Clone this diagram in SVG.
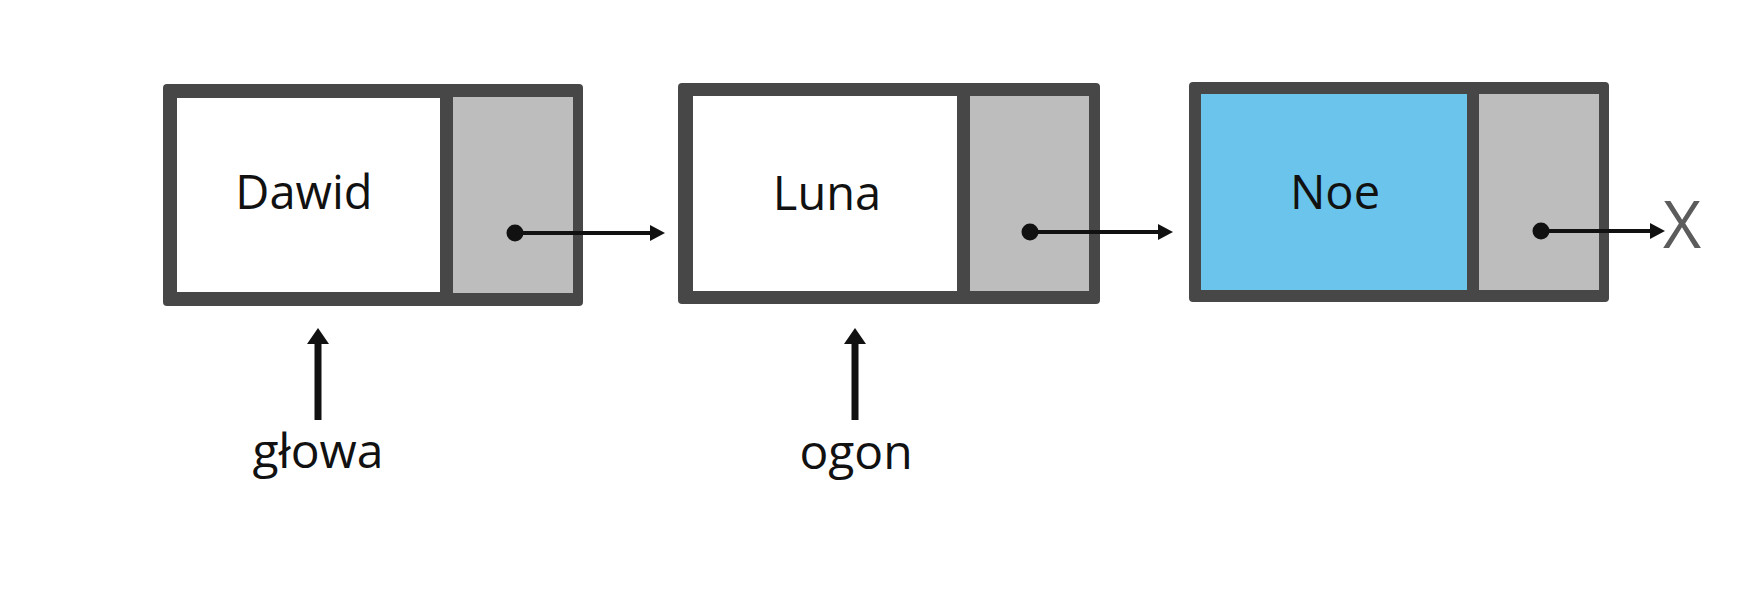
<svg xmlns="http://www.w3.org/2000/svg" width="1752" height="592" viewBox="0 0 1752 592">
  <defs>
    <style>
      .frame { fill: #474747; }
      .data { fill: #ffffff; }
      .blue { fill: #6ac4ec; }
      .ptr { fill: #bdbdbd; }
      .lbl { font-family: "Open Sans", "Noto Sans", sans-serif; font-size: 47px; fill: #111111; text-anchor: middle; }
      .lbl2 { font-family: "Open Sans", "Noto Sans", sans-serif; font-size: 48px; fill: #111111; text-anchor: middle; }
      .link { stroke: #111111; stroke-width: 4; fill: none; }
      .up { stroke: #111111; stroke-width: 7; fill: none; }
      .dot { fill: #111111; }
    </style>
    <marker id="arr" markerUnits="userSpaceOnUse" markerWidth="16" markerHeight="18" refX="3" refY="8" orient="auto">
      <path d="M0,0 L15,8 L0,16 z" fill="#111111"/>
    </marker>
    <marker id="arrUp" markerUnits="userSpaceOnUse" markerWidth="18" markerHeight="24" refX="3" refY="11" orient="auto">
      <path d="M0,0 L16,11 L0,22 z" fill="#111111"/>
    </marker>
  </defs>
  <rect width="1752" height="592" fill="#ffffff"/>

  <g id="node-dawid">
    <rect class="frame" x="163" y="84" width="420" height="222" rx="4"/>
    <rect class="data" x="177" y="98" width="263" height="194"/>
    <rect class="ptr" x="453" y="97" width="120" height="196"/>
    <text class="lbl" x="304" y="209">Dawid</text>
  </g>

  <g id="node-luna">
    <rect class="frame" x="678" y="83" width="422" height="221" rx="4"/>
    <rect class="data" x="693" y="96" width="264" height="195"/>
    <rect class="ptr" x="970" y="96" width="119" height="195"/>
    <text class="lbl" x="827" y="210">Luna</text>
  </g>

  <g id="node-noe">
    <rect class="frame" x="1189" y="82" width="420" height="220" rx="4"/>
    <rect class="blue" x="1201" y="94" width="266" height="196"/>
    <rect class="ptr" x="1479" y="94" width="120" height="196"/>
    <text class="lbl" x="1335" y="209">Noe</text>
  </g>

  <g id="label-glowa">
    <text class="lbl2" x="318" y="468">głowa</text>
  </g>

  <g id="label-ogon">
    <text class="lbl2" x="856" y="469">ogon</text>
  </g>

  <g id="null-x">
    <text x="1682" y="248" font-family="Open Sans, sans-serif" font-weight="400" font-size="66" fill="#5c5c5c" text-anchor="middle">X</text>
  </g>

  <g id="connectors">
    <circle class="dot" cx="515" cy="233" r="8.5"/>
    <line class="link" x1="515" y1="233" x2="653" y2="233" marker-end="url(#arr)"/>
    <circle class="dot" cx="1030" cy="232" r="8.5"/>
    <line class="link" x1="1030" y1="232" x2="1161" y2="232" marker-end="url(#arr)"/>
    <circle class="dot" cx="1541" cy="231" r="8.5"/>
    <line class="link" x1="1541" y1="231" x2="1653" y2="231" marker-end="url(#arr)"/>
    <line class="up" x1="318" y1="420" x2="318" y2="341" marker-end="url(#arrUp)"/>
    <line class="up" x1="855" y1="420" x2="855" y2="341" marker-end="url(#arrUp)"/>
  </g>
</svg>
